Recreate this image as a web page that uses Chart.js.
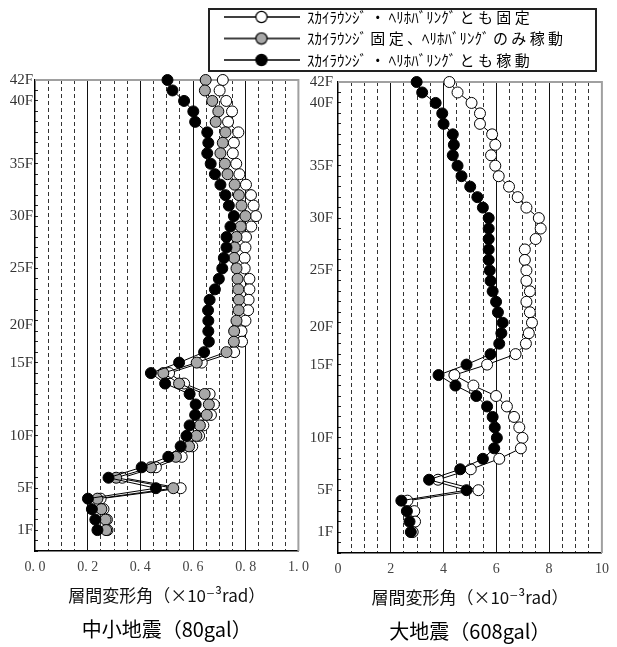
<!DOCTYPE html>
<html><head><meta charset="utf-8">
<script src="https://cdn.jsdelivr.net/npm/chart.js@4.4.1/dist/chart.umd.min.js"></script>
<style>
html,body{margin:0;padding:0;background:#fff;}
#wrap{position:relative;width:617px;height:647px;overflow:hidden;background:#fff;}
canvas{position:absolute;}
#leftC{left:0;top:0;}
#rightC{left:300px;top:2px;}
#legBox{position:absolute;left:208px;top:8px;width:389px;height:64px;border:2px solid #222;box-sizing:border-box;}
#legC{left:208px;top:3px;}
</style></head><body>
<div id="wrap">
<canvas id="leftC" width="317" height="647"></canvas>
<canvas id="rightC" width="317" height="647"></canvas>
<div id="legBox"></div>
<canvas id="legC" width="389" height="160"></canvas>
</div>
<script>
// level positions of the 44 plotted stories, from top (42F) to bottom (1F)
const levels = [45,44,43,42,41,40,39,38,37,36,35,34,33,32,31,30,29,28,27,26,25,24,23,22,21,20,19,18,17,16,15,14,13,12,11,10,9,8,7,6,5,4,3,2];
const floorLabels = ['42F','40F','35F','30F','25F','20F','15F','10F','5F','1F'];
const floorLabelLevels = [45,43,37,32,27,21.6,18,11,6,2];

const leftXTickLabels = ['0. 0','0. 2','0. 4','0. 6','0. 8','1. 0'];
const rightXTickLabels = ['0','2','4','6','8','10'];

const legendLabels = [
  'ｽｶｲﾗｳﾝｼﾞ ・ ﾍﾘﾎﾊﾞﾘﾝｸﾞ と も 固 定',
  'ｽｶｲﾗｳﾝｼﾞ 固 定 、ﾍﾘﾎﾊﾞﾘﾝｸﾞ の み 稼 動',
  'ｽｶｲﾗｳﾝｼﾞ ・ ﾍﾘﾎﾊﾞﾘﾝｸﾞ と も 稼 動'
];
const axisTitle = '層間変形角（×10⁻³rad）';
const leftTitle = '中小地震（80gal）';
const rightTitle = '大地震（608gal）';

// 中小地震 (80gal)
const leftFixed = [0.713,0.701,0.726,0.748,0.733,0.772,0.755,0.751,0.764,0.776,0.801,0.820,0.830,0.839,0.821,0.801,0.799,0.796,0.796,0.814,0.814,0.811,0.809,
  0.799,0.784,0.786,0.756,0.633,0.509,0.566,0.663,0.679,0.668,0.639,0.623,0.597,0.557,0.459,0.331,0.553,0.249,0.260,0.273,0.275];
const leftHeliOnly = [0.648,0.645,0.673,0.696,0.686,0.723,0.713,0.704,0.721,0.731,0.758,0.774,0.784,0.799,0.781,0.765,0.758,0.756,0.765,0.769,0.772,0.774,0.773,
  0.765,0.756,0.755,0.727,0.614,0.487,0.547,0.644,0.660,0.652,0.626,0.613,0.585,0.535,0.440,0.308,0.525,0.237,0.252,0.268,0.270];
const leftBoth = [0.503,0.522,0.566,0.601,0.608,0.654,0.658,0.654,0.667,0.683,0.704,0.723,0.736,0.755,0.742,0.727,0.727,0.717,0.711,0.698,0.683,0.663,0.657,
  0.658,0.658,0.660,0.642,0.547,0.440,0.494,0.587,0.610,0.608,0.587,0.575,0.553,0.506,0.405,0.279,0.459,0.201,0.216,0.229,0.237];

// 大地震 (608gal)
const rightFixed = [4.22,4.53,5.06,5.38,5.38,5.84,5.96,5.80,5.96,6.09,6.48,6.81,7.14,7.61,7.68,7.49,7.08,7.08,7.14,7.14,7.27,7.14,
  7.27,7.35,7.23,7.12,6.73,5.65,4.41,5.13,5.99,6.40,6.67,6.87,6.99,6.93,6.11,5.03,3.79,5.32,2.63,2.89,2.92,2.83];
const rightBoth = [2.98,3.19,3.70,3.95,4.00,4.35,4.39,4.35,4.53,4.68,5.01,5.28,5.49,5.71,5.71,5.71,5.71,5.71,5.75,5.78,5.86,5.99,
  6.06,6.24,6.19,6.11,5.78,4.87,3.81,4.45,5.24,5.65,5.86,5.94,6.02,5.92,5.49,4.63,3.45,4.87,2.40,2.61,2.71,2.76];

const fills = ['#ffffff','#a8a8a8','#000000'];
const CJK = "'Noto Sans CJK JP', 'DejaVu Sans', sans-serif";
const SERIF = "'Liberation Serif', 'DejaVu Serif', serif";

function ds(label, vals, fill, order){
  return {label, data: vals.map((v,i)=>({x:v, y:levels[i]})), borderColor:'#000', borderWidth:1,
    pointRadius:5.5, pointHoverRadius:5.5, pointBorderWidth:1, pointBorderColor:'#000',
    pointBackgroundColor:fill, backgroundColor:fill, clip:false, order, tension:0, fill:false};
}

function makeX(max, step, majorEvery, labels){
  const n = Math.round(max/step);
  return {
    type:'linear', min:0, max:max, weight:0,
    afterBuildTicks: s => { const t=[]; for(let k=0;k<=n;k++) t.push({value: Math.round(k*step*1000)/1000}); s.ticks=t; },
    ticks:{autoSkip:false, maxRotation:0, padding:8.1, color:'#444', font:{family:SERIF, size:14},
      callback:(v,i)=> i%majorEvery===0 ? labels[i/majorEvery] : ''},
    grid:{drawTicks:false, lineWidth:1,
      color: c => { if(!c.tick) return '#000'; const i=c.index; if(i===0||i===n) return 'rgba(0,0,0,0)'; return i%majorEvery===0 ? '#111' : '#333'; }},
    border:{display:true, color:'#000', width:1.5, dash: c => (c.tick && c.index%majorEvery!==0) ? [4,3] : []},
    title:{display:true, text:axisTitle, color:'#111', font:{family:CJK, size:17}, padding:{top:1, bottom:0}}
  };
}

// second bottom axis carrying the panel caption, centred under the plot area
function makeCaptionAxis(max, text){
  return {
    type:'linear', min:0, max:max, position:'bottom', weight:1,
    grid:{display:false, drawTicks:false}, ticks:{display:false}, border:{display:false},
    title:{display:true, text, color:'#000', font:{family:CJK, size:20, weight:'normal'}, padding:{top:11.6, bottom:6}}
  };
}

function makeY(width, pad){
  return {
    type:'linear', min:0, max:45,
    afterBuildTicks: s => { const t=[]; for(let v=0; v<=45; v++) t.push({value:v});
      floorLabelLevels.forEach(v=>{ if(!Number.isInteger(v)) t.push({value:v}); });
      t.sort((a,b)=>a.value-b.value); s.ticks=t; },
    afterFit: s => { s.width = width; },
    ticks:{autoSkip:false, padding:pad, color:'#333', font:{family:SERIF, size:15},
      callback: v => { const k=floorLabelLevels.indexOf(v); return k>=0 ? floorLabels[k] : ''; }},
    grid:{drawOnChartArea:false, drawTicks:true, tickLength:-3, tickWidth:1,
      tickColor: c => (c.tick && Number.isInteger(c.tick.value)) ? '#222' : 'rgba(0,0,0,0)'},
    border:{display:true, color:'#000', width:1.5}
  };
}

const framePlugin = {id:'frame', beforeDatasetsDraw(chart){
  const {ctx, chartArea:a} = chart; ctx.save(); ctx.strokeStyle='#a0a0a0'; ctx.lineWidth=2;
  ctx.beginPath(); ctx.moveTo(a.left, a.top); ctx.lineTo(a.right, a.top); ctx.lineTo(a.right, a.bottom); ctx.stroke(); ctx.restore();
}};

function makeChart(id, datasets, xScale, capScale, yScale, padRight){
  return new Chart(document.getElementById(id), {
    type:'line',
    data:{datasets},
    options:{responsive:false, animation:false, devicePixelRatio:1, events:[],
      layout:{padding:{top:80, right:padRight, bottom:0, left:0}},
      scales:{x:xScale, cap:capScale, y:yScale},
      plugins:{legend:{display:false}, tooltip:{enabled:false}, title:{display:false}}
    },
    plugins:[framePlugin]
  });
}

makeChart('leftC', [
  ds(legendLabels[0], leftFixed, fills[0], 3),
  ds(legendLabels[1], leftHeliOnly, fills[1], 2),
  ds(legendLabels[2], leftBoth, fills[2], 1)
], makeX(1, 0.05, 4, leftXTickLabels), makeCaptionAxis(1, leftTitle), makeY(35, 5), 17);

makeChart('rightC', [
  ds(legendLabels[0], rightFixed, fills[0], 3),
  ds(legendLabels[2], rightBoth, fills[2], 1)
], makeX(10, 0.5, 4, rightXTickLabels), makeCaptionAxis(10, rightTitle), makeY(38, 8), 10);

// legend
function makeIcon(fill){
  const c=document.createElement('canvas'); c.width=76; c.height=14;
  const g=c.getContext('2d'); g.strokeStyle='#000'; g.lineWidth=1.3;
  g.beginPath(); g.moveTo(0,7); g.lineTo(76,7); g.stroke();
  g.beginPath(); g.arc(38,7,5.6,0,Math.PI*2); g.fillStyle=fill; g.fill(); g.lineWidth=1.2; g.stroke();
  return c;
}
const icons = fills.map(makeIcon);
new Chart(document.getElementById('legC'), {
  type:'line',
  data:{datasets: legendLabels.map((t,i)=>({label:t, data:[]}))},
  options:{responsive:false, animation:false, devicePixelRatio:1, events:[],
    layout:{padding:{left:9, top:0}},
    scales:{x:{display:false}, y:{display:false}},
    plugins:{tooltip:{enabled:false},
      legend:{display:true, position:'top', align:'start',
        labels:{usePointStyle:true, pointStyleWidth:76, padding:6.5, color:'#000', font:{family:CJK, size:15},
          generateLabels: () => legendLabels.map((t,i)=>({text:t, pointStyle:icons[i], fillStyle:fills[i], strokeStyle:'#000', lineWidth:1, hidden:false, datasetIndex:i, fontColor:'#000'}))}}}
  }
});
</script>
</body></html>
